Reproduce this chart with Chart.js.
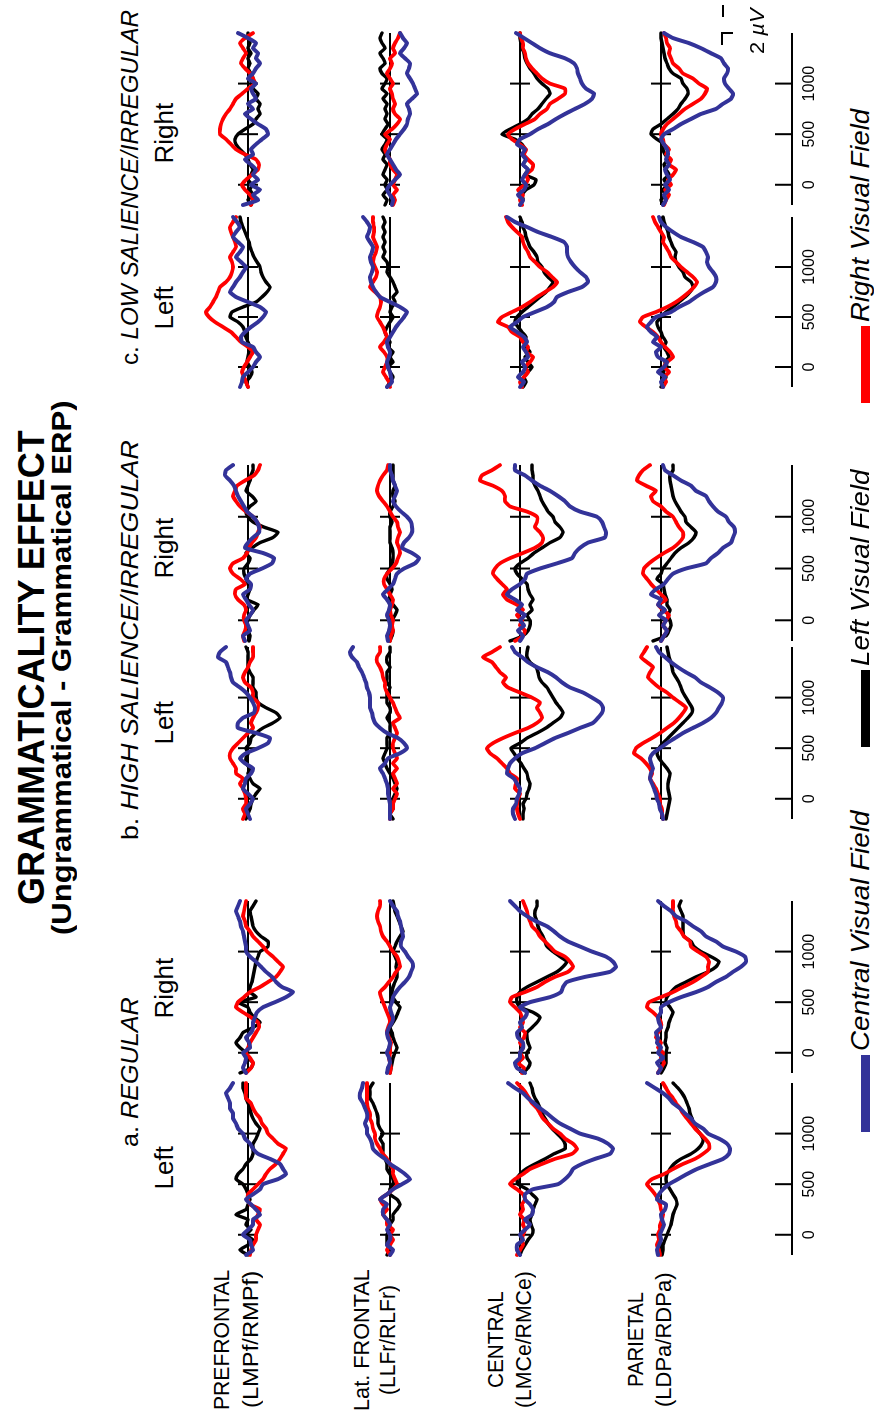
<!DOCTYPE html>
<html><head><meta charset="utf-8">
<script src="https://cdn.jsdelivr.net/npm/chart.js@4.4.1/dist/chart.umd.min.js"></script>
<style>
html,body{margin:0;padding:0;background:#fff;overflow:hidden;width:876px;height:1420px;}
#fig{position:absolute;left:0;top:0;width:1420px;height:876px;transform-origin:0 0;transform:translate(0px,1420px) rotate(-90deg);font-family:"Liberation Sans",Arial,Helvetica,sans-serif;color:#000;background:#fff;}
#fig canvas{position:absolute;}
.lbl{position:absolute;white-space:nowrap;line-height:1;transform-origin:0 0;}
.bar{position:absolute;}
</style></head><body><div id="fig"></div>
<script>
// ---------------- DATA (µV, difference waves) ----------------
const times = [-200,-150,-100,-50,0,50,100,150,200,250,300,350,400,450,500,550,600,650,700,750,800,850,900,950,1000,1050,1100,1150,1200,1250,1300,1350,1400,1450,1500];
const timeTicks = [0, 500, 1000];

// a. REGULAR - Left
const reg_L_pf_cvf = [-0.2,0.5,0.3,0.2,-0.5,0,0.5,0.5,1.2,0.8,0.3,-0.2,0.5,1.2,1.5,3.0,3.8,3.5,3.2,2.2,1.0,0.5,0.2,-0.3,-0.5,-1.0,-1.2,-1.5,-1.5,-1.8,-1.8,-2.0,-2.2,-1.8,-1.5];
const reg_L_pf_lvf = [0,-0.8,0,0.5,-0.2,0.3,-0.2,0,-1.2,-0.2,0,0.2,0,-0.2,-0.5,-1.2,-1.0,-0.5,-0.2,0.3,0.5,0.5,0.5,0.8,1.0,1.2,0.8,0.5,0.3,0.2,0,-0.2,-0.3,-0.5,-0.5];
const reg_L_pf_rvf = [0.2,0.3,0.5,0.8,0.8,1.0,1.2,0.8,1.0,1.2,0.2,0,0,0.5,1.0,1.5,1.8,2.2,2.8,3.2,3.5,3.8,3.0,2.5,2.0,1.8,1.4,1.2,0.8,0.5,0.3,-0.2,-0.2,-0.2,-0.2];
const reg_L_lf_cvf = [0,0.3,-0.3,0,0,-0.3,0,-0.3,-0.7,-0.7,-0.3,-1.0,-0.3,0.3,1.2,2.0,1.5,0.8,0,-0.5,-1.2,-1.7,-1.8,-2.0,-2.3,-2.3,-2.5,-2.3,-2.3,-2.5,-2.7,-3.0,-3.0,-2.8,-2.7];
const reg_L_lf_lvf = [-0.3,0,-0.3,-0.3,-0.3,0,0,0.3,0.3,0.7,1.0,0.7,0,0,0.3,0.3,0,-0.3,-0.3,-0.5,-0.7,-0.7,-0.7,-1.0,-0.7,-1.0,-1.2,-1.2,-1.3,-1.5,-1.7,-2.0,-2.0,-2.0,-1.7];
const reg_L_lf_rvf = [0,-0.3,0,0.3,0,0.3,-0.3,-0.3,-0.7,-0.3,-0.7,-1.0,-0.3,0.3,0.7,0.5,0.3,0.3,0,-0.3,-0.7,-1.0,-1.3,-1.5,-1.5,-1.7,-1.8,-2.0,-2.0,-2.2,-2.3,-2.3,-2.3,-2.3,-2.3];
const reg_L_ce_cvf = [0,-0.3,-0.3,0.3,0,0.5,1.0,0.5,1.2,1.3,1.0,0.5,0.5,1.3,3.8,4.5,5.0,5.3,6.2,7.5,9.0,9.3,8.8,7.8,6.0,5.0,4.0,3.3,2.7,2.0,1.4,0.8,0.3,-0.5,-1.2];
const reg_L_ce_lvf = [0,0.2,0.5,0.8,1.2,1.3,1.1,1.0,1.2,1.3,1.5,1.7,1.2,0.7,-0.2,-0.3,0,0.6,1.5,2.5,3.4,4.5,4.5,4.2,3.7,3.2,2.8,2.5,2.2,2.0,1.8,1.5,1.3,1.2,1.0];
const reg_L_ce_rvf = [-0.3,0,0.3,0.2,0.3,0.5,0.3,0.4,0,0.3,0.2,0.5,0.3,-0.3,-1.0,-0.5,0.3,1.0,2.2,3.5,5.2,5.7,5.3,4.5,4.0,3.3,2.8,2.3,2.0,1.7,1.2,0.9,0.6,0.2,-0.3];
const reg_L_pa_cvf = [-0.3,-0.4,-0.2,0,-0.1,0.1,0.3,0.1,0,0.4,0.5,-0.4,-0.2,0.2,0.8,1.7,2.6,3.6,4.9,6.2,6.8,6.9,6.6,5.8,4.7,4.2,3.4,3.0,2.4,1.9,1.2,0.8,0.2,-0.6,-1.4];
const reg_L_pa_lvf = [0.1,0.2,0.2,0.4,0.6,0.8,1.0,1.1,1.2,1.4,1.6,1.5,1.2,0.9,0.6,0.5,0.6,0.9,1.3,2.0,3.0,3.7,4.1,4.2,3.9,3.5,3.2,3.1,2.9,2.8,2.6,2.4,2.1,1.7,1.2];
const reg_L_pa_rvf = [-0.1,-0.2,-0.4,-0.2,-0.3,-0.1,-0.1,0.1,0.2,0,-0.1,-0.3,-0.6,-1.0,-1.4,-0.9,0.3,1.2,2.2,3.4,4.2,4.8,4.8,4.4,3.9,3.4,3.0,2.6,2.2,1.9,1.5,1.2,0.8,0.5,0.2];

// a. REGULAR - Right
const reg_R_pf_cvf = [-0.2,-0.5,-0.3,-0.2,-0.5,0.2,0.1,-0.2,0.3,0.5,0.5,0.7,0.9,1.5,2.7,3.8,4.5,3.4,2.8,2.4,1.8,1.3,0.8,0.2,-0.2,-0.2,-0.3,-0.4,-0.5,-0.7,-0.8,-1.0,-1.2,-1.0,-0.8];
const reg_R_pf_lvf = [-0.8,0.3,0.5,0,-0.2,-0.8,-1.2,-0.8,-0.5,0.5,1.2,0.6,0.2,0,-1.0,0.8,0.2,0.2,0.4,0.5,0.6,0.7,0.8,1.0,1.2,2.0,2.0,1.3,0.8,0.5,0.4,0.3,0.2,0.5,0.8];
const reg_R_pf_rvf = [-0.2,0.3,0.5,0.2,-0.2,0,0.2,0.5,0.8,1.1,1.0,0.3,-0.5,-1.2,-1.0,-0.4,0.2,1.2,2.0,2.8,3.2,3.5,3.0,2.5,1.9,1.5,1.0,0.5,0.2,-0.2,-0.3,-0.5,-0.4,-0.3,-0.2];
const reg_R_lf_cvf = [-0.3,-0.2,0,-0.1,-0.3,-0.1,0,-0.2,-0.3,-0.1,0.2,0.3,0.1,0,0.2,0.3,0.6,1.0,1.5,1.9,2.1,2.3,2.2,1.8,1.5,1.1,1.1,1.3,1.2,1.1,1.0,0.8,0.7,0.3,0];
const reg_R_lf_lvf = [0,0.1,0.2,0.3,0.5,0.7,0.5,0.3,0.2,0,0.3,0.6,0.8,1.0,0.6,0.3,0.2,0.3,0.5,0.7,0.7,0.6,0.7,0.5,0.3,0.5,0.7,1.0,1.3,1.1,0.9,0.7,0.5,0.4,0.3];
const reg_R_lf_rvf = [0,0.1,0,-0.1,0,0,0.1,-0.1,-0.3,-0.2,0,-0.1,-0.3,-0.5,-0.7,-0.9,-1.0,-0.5,-0.1,0.3,0.6,1.0,0.9,0.7,0.3,0,-0.3,-0.7,-0.9,-1.0,-1.2,-1.3,-1.2,-1.0,-1.0];
const reg_R_ce_cvf = [0.5,-0.3,-0.5,0,0,0.3,0.3,-0.2,-0.3,0.2,0,0.5,0.7,0,1.0,3.0,4.1,4.3,4.7,6.5,9.0,9.6,9.3,8.6,7.2,6.0,4.8,4.0,3.4,2.7,1.6,0.7,0,-0.5,-1.0];
const reg_R_ce_lvf = [0.3,0.8,1.0,0.7,0.7,1.0,0.8,0.7,0.7,1.2,1.7,2.0,1.3,0,-0.3,-0.3,0,0.7,1.7,2.7,3.7,4.3,4.7,4.0,3.3,2.7,2.5,2.3,2.0,1.8,1.7,1.5,1.5,1.7,1.7];
const reg_R_ce_rvf = [0.2,0.4,-0.2,0.3,0,0.3,0,0.4,0.5,0,0.3,0.2,0,-0.5,-1.0,-0.8,0.5,1.7,2.5,3.5,4.8,5.3,5.0,4.5,3.5,3.0,2.5,2.0,1.7,1.2,1.0,0.8,0.7,0.5,0.3];
const reg_R_pa_cvf = [-0.3,0,-0.4,0.2,-0.3,0,-0.4,-0.3,-0.5,0,-0.2,-0.3,0,0,0.8,2.0,3.5,4.7,5.5,6.5,7.2,8.0,8.5,8.4,7.5,6.2,5.5,4.5,4.0,3.2,2.5,1.5,1.0,0.3,-0.3];
const reg_R_pa_lvf = [0,0.3,0.5,0.5,0.5,0.6,0.4,0.5,0.5,0.7,0.8,1.0,1.2,0.9,0.5,0.6,1.0,1.5,2.5,3.5,4.7,5.5,5.8,5.0,4.0,3.3,3.0,2.3,2.2,2.2,2.2,2.2,2.0,1.8,2.0];
const reg_R_pa_rvf = [-0.3,0,0.3,0,0.2,-0.3,0,-0.5,-0.3,0,0,-0.3,-0.8,-1.4,-1.2,0,1.2,2.2,3.2,4.0,4.7,4.7,4.8,4.5,3.7,3.0,2.9,2.3,2.0,1.6,1.5,1.3,1.2,1.2,1.2];

// b. HIGH SALIENCE/IRREGULAR - Left
const hi_L_pf_cvf = [0.2,0,-0.2,0.2,0.5,0,-0.5,-0.3,-0.2,0.3,0.5,-0.3,-0.8,-0.2,1.0,2.0,2.2,0.8,-1.0,-1.0,-0.5,0.6,0.7,0.5,0.2,-0.2,-0.8,-1.5,-1.7,-1.8,-2.0,-2.2,-3.0,-2.8,-2.2];
const hi_L_pf_lvf = [-0.2,0,0.2,0.3,0.5,0.8,1.2,0.5,0.2,0,0.2,-0.2,-0.2,0,-0.2,0.2,0.3,0.8,1.5,2.5,3.2,2.8,1.8,1.0,0.8,0.8,0.5,0.5,0.5,0.2,0,0,0,0,-0.2];
const hi_L_pf_rvf = [-0.5,-0.3,-0.5,-0.2,-0.2,-0.3,-0.5,-0.8,-0.5,-1.2,-1.2,-1.5,-1.8,-1.8,-1.5,-1.0,-0.5,0,0.5,0.3,0.5,0.8,1.0,1.0,0.5,0.5,0.3,-0.3,-0.5,-0.3,0,0.2,0.5,0.5,0.5];
const hi_L_lf_cvf = [0,0,0,0,-0.1,-0.2,-0.2,-0.3,-0.5,-0.7,-1.0,-0.5,-0.2,1.0,1.7,1.4,0.8,-0.3,-1.0,-1.5,-1.7,-1.8,-2.0,-2.0,-2.0,-2.1,-2.3,-2.4,-2.6,-2.8,-3.1,-3.3,-3.8,-4.0,-3.7];
const hi_L_lf_lvf = [0.3,0,0.3,0.3,0.3,0.5,0.7,0.5,0.3,0,-0.3,-0.5,-0.7,-0.5,-0.3,-0.3,-0.3,0,0,0,-0.3,0,0,-0.3,-0.3,-0.3,0,-0.3,-0.3,-0.3,0,-0.3,-0.3,0,0];
const hi_L_lf_rvf = [0,0,0.3,0.3,0.5,0.7,0.3,0.7,0.5,0.3,0.7,0.3,0.7,0.5,0.3,0.3,0.5,0.7,0.5,0.3,1.0,0.7,0.5,0.3,0,-0.3,-0.5,-0.5,-0.7,-0.8,-1.0,-1.3,-1.3,-1.0,-1.0];
const hi_L_ce_cvf = [-0.5,-0.7,-0.7,-0.4,-0.3,-0.1,0,-0.3,-0.6,-1.3,-1.2,-1.0,-0.5,0.2,1.5,2.5,3.5,4.8,6.0,7.3,7.8,8.2,8.3,8.0,7.2,6.3,5.0,4.2,3.6,2.8,1.7,0.8,0.2,-0.5,-0.8];
const hi_L_ce_lvf = [0.3,0.3,0.4,0.3,0.6,0.7,0.9,1.0,0.8,0.7,0.4,0.1,-0.3,-0.6,-0.9,0,0.7,1.7,2.6,3.3,4.0,4.3,4.0,3.6,3.3,3.0,2.7,2.2,1.9,1.8,1.6,1.0,0.7,0.7,0.8];
const hi_L_ce_rvf = [0,-0.2,-0.3,-0.3,-0.2,0,-0.5,-0.4,-0.3,-1.0,-1.3,-1.8,-2.3,-3.0,-3.3,-2.7,-1.7,-0.5,0.8,1.7,2.2,2.0,1.7,2.0,1.2,0,-1.2,-1.7,-1.4,-2.0,-2.4,-2.8,-3.7,-2.8,-2.0];
const hi_L_pa_cvf = [0.2,0.1,-0.1,-0.2,-0.4,-0.5,-0.7,-0.9,-1.1,-1.0,-0.8,-1.0,-1.1,-0.8,-0.1,0.6,1.4,2.2,3.2,4.2,5.0,5.5,5.8,6.1,6.2,5.7,4.9,4.0,3.4,2.5,1.7,1.0,0.4,-0.2,-0.5];
const hi_L_pa_lvf = [0.5,0.6,0.7,0.8,0.9,0.8,0.7,0.7,0.8,0.9,0.6,0.2,-0.2,-0.4,-0.2,0.2,0.7,1.2,1.7,2.2,2.7,3.1,3.1,2.8,2.5,2.2,2.0,1.8,1.5,1.2,1.1,1.0,0.8,0.7,0.6];
const hi_L_pa_rvf = [0.2,0.1,0.1,-0.1,-0.1,-0.3,-0.5,-0.8,-1.1,-0.9,-1.1,-1.5,-2.0,-2.7,-2.5,-1.8,-0.9,-0.1,0.6,1.3,1.8,2.2,2.5,1.9,1.2,0.6,-0.2,-0.8,-1.3,-1.1,-0.8,-1.4,-2.0,-1.7,-1.4];

// b. HIGH SALIENCE/IRREGULAR - Right
const hi_R_pf_cvf = [-0.3,-0.5,0.2,0,-0.2,0.2,0.5,0.1,-0.2,-0.5,0.2,0.3,-0.2,0.2,1.4,2.4,2.6,1.5,-0.3,0,0.5,1.1,1.1,0.9,0.5,-0.1,-0.4,-0.7,-1.0,-1.2,-1.4,-1.8,-2.3,-2.2,-1.5];
const hi_R_pf_lvf = [0.1,0.2,0,-0.2,0,0.2,0.6,1.0,-0.1,0,0.2,0,-0.2,-0.4,-0.4,0,0.2,-0.2,0.4,1.2,2.5,3.0,1.6,0.5,0,-0.2,0.2,0.8,0.4,-0.2,0,0.2,0.3,0.5,0.5];
const hi_R_pf_rvf = [-0.4,-0.5,-0.3,-0.2,-0.4,-0.4,-0.2,-0.4,-1.0,-1.3,-1.2,-0.3,-0.8,-1.5,-1.8,-1.5,-0.5,-0.1,0.1,0.4,0.8,1.0,1.2,0.9,0.5,-0.2,-0.8,-1.2,-1.5,-1.3,-1.1,-0.3,0.6,1.0,1.2];
const hi_R_lf_cvf = [-0.2,-0.3,-0.1,0,-0.1,-0.3,-0.1,0,-0.3,-0.7,-0.2,0.3,0.5,0.7,1.4,2.5,2.9,2.2,1.2,1.4,1.9,2.2,2.2,2.1,1.7,1.1,0.6,0.3,0.5,0.7,0.5,0.3,0.2,0,0];
const hi_R_lf_lvf = [0,0.2,0.3,0,0.2,0.5,0.7,0.3,0,0,0.2,0,-0.3,-0.3,0,0.2,0.3,0.3,0.2,0,0,0,0,0.2,0,0,0.3,0.5,0.3,0.3,0.5,0.3,0.3,0.3,0.3];
const hi_R_lf_rvf = [0,0.1,0.3,0.2,0.3,0.1,0,0.2,0.3,0,-0.3,-0.6,-0.6,-0.3,0.2,0.6,0.8,1.0,0.9,0.7,0.8,1.0,0.8,0.7,0.3,0,-0.3,-0.7,-1.1,-1.3,-1.2,-1.0,-0.7,-0.3,-0.2];
const hi_R_ce_cvf = [0,0.3,-0.2,0.4,0,0.5,-0.3,0.2,-0.5,-1.3,-0.8,0,0.5,0.7,2.0,3.7,5.2,5.5,6.0,6.8,8.5,8.6,8.4,8.2,7.7,6.0,5.0,4.5,3.8,3.0,2.0,1.2,0.5,-0.5,-0.5];
const hi_R_ce_lvf = [-1.0,0.3,0.8,1.0,1.0,0.7,1.2,1.0,1.3,1.0,0.8,0.7,0.2,-0.3,-0.5,0,0.8,1.4,2.2,3.0,4.0,4.3,4.0,3.5,3.3,2.8,2.5,2.2,2.0,1.8,1.5,1.3,1.3,1.2,1.2];
const hi_R_ce_rvf = [-0.5,0.3,0.5,0,0.2,-0.3,0.3,-0.3,-1.3,-1.7,-1.3,-1.8,-2.3,-2.7,-2.5,-2.0,-1.0,0.3,1.5,2.2,2.3,2.0,1.5,1.7,1.7,0.7,-1.0,-1.5,-1.5,-1.8,-2.7,-4.0,-3.8,-2.8,-2.0];
const hi_R_pa_cvf = [0,0.3,0.6,0.2,0.5,-0.2,0.4,-0.3,0,-1.0,-0.5,0.3,0.7,1.2,2.5,4.5,5.0,5.7,6.2,7.0,7.2,7.4,7.3,6.8,6.5,5.7,5.2,4.8,4.5,3.5,3.0,2.0,1.2,0.4,0.2];
const hi_R_pa_lvf = [-0.8,0.5,0.8,1.0,0.9,0.7,0.9,0.6,0.6,0.4,0.3,0.2,-0.4,0,0.2,0.6,1.0,1.4,2.0,2.8,3.3,3.5,3.0,2.5,2.4,2.0,1.7,1.4,1.2,1.1,1.0,0.9,0.9,1.2,1.2];
const hi_R_pa_rvf = [0,0.3,0.6,0.2,0.5,0.8,0.2,-0.3,0.5,0,-0.5,-1.0,-1.4,-1.8,-1.7,-1.2,-0.5,0.3,1.2,1.8,2.2,2.2,1.8,1.5,1.2,0.5,0,-0.8,-1.0,-0.5,-1.5,-2.4,-2.2,-1.8,-1.1];

// c. LOW SALIENCE/IRREGULAR - Left
const lo_L_pf_cvf = [-0.8,-0.6,-0.5,0,0.5,0.8,1.2,0.8,0.5,-0.6,-0.7,-0.3,0.3,1.0,1.5,1.8,1.2,0,-1.2,-1.8,-1.5,-1.2,-0.8,-0.5,-0.2,-0.7,-1.2,-0.8,-0.5,-1.0,-1.5,-1.2,-0.8,-1.1,-1.5];
const lo_L_pf_lvf = [0,-0.2,0.2,0.4,0.2,-0.1,0,0.1,0.2,0,-0.2,-0.3,-0.5,-1.0,-1.8,-1.6,-0.5,0.8,1.4,1.9,2.2,1.8,1.5,1.3,1.2,0.9,0.6,0.4,0.2,0.1,-0.1,-0.3,-0.5,-0.7,-0.8];
const lo_L_pf_rvf = [0,-0.2,-0.4,-0.6,-0.4,-0.1,0.2,0.5,0,-0.7,-1.2,-1.7,-2.5,-3.3,-3.9,-4.2,-3.8,-3.5,-3.2,-3.0,-2.8,-2.2,-1.8,-1.6,-1.5,-1.6,-1.8,-1.5,-1.2,-1.3,-1.5,-1.7,-1.8,-1.5,-1.2];
const lo_L_lf_cvf = [-0.3,0.2,0.1,0,-0.2,-0.3,-0.1,0,-0.2,-0.3,0,0.3,0.6,1.0,1.4,1.7,1.0,0,-1.0,-1.4,-1.7,-1.9,-2.0,-1.8,-1.7,-1.9,-2.0,-1.8,-1.7,-2.0,-2.3,-2.1,-2.0,-2.3,-2.7];
const lo_L_lf_lvf = [-0.3,0,0.3,0,-0.2,0.3,0,0.3,-0.2,0,-0.3,-0.5,-0.3,0,0.3,0,0.2,0.5,0.3,0.7,0.5,0.3,0,-0.3,-0.2,-0.3,-0.7,-0.5,-0.7,-0.5,-0.7,-0.5,-0.7,-0.5,-0.7];
const lo_L_lf_rvf = [0,-0.1,-0.4,-0.7,-0.5,-0.3,-0.3,-0.6,-1.0,-0.6,-0.3,-0.5,-0.7,-1.0,-1.3,-1.2,-1.0,-0.9,-1.0,-1.5,-2.0,-1.7,-1.4,-1.3,-1.5,-1.7,-1.6,-1.4,-1.3,-1.5,-1.7,-1.6,-1.6,-1.7,-1.7];
const lo_L_ce_cvf = [0,0.4,-0.2,0.3,0.5,0.2,0.8,0.6,0.3,0.7,0.4,-0.3,-1.0,-0.3,0.3,1.5,2.7,3.4,3.7,4.8,6.2,6.8,6.6,6.0,5.5,5.1,4.8,4.7,4.7,4.4,3.2,1.8,0.7,-0.5,-1.3];
const lo_L_ce_lvf = [0.3,0.6,0.4,0.8,1.2,0.8,0.5,1.0,0.6,0.4,0.6,0.2,-0.2,-0.5,-0.3,0.2,0.8,1.4,2.0,2.6,3.0,3.3,2.8,2.4,2.2,1.8,1.7,1.4,1.0,0.8,0.6,0.5,0.3,0.2,0];
const lo_L_ce_rvf = [0.2,0,0.4,0.8,0.5,1.0,1.3,0.6,0.8,0.3,0,-0.8,-1.2,-2.2,-1.8,-0.8,0.2,1.0,1.7,2.5,3.3,3.7,3.2,2.7,2.0,1.5,1.0,0.8,0.5,0.3,0.2,-0.3,-0.8,-1.2,-1.4];
const lo_L_pa_cvf = [0.2,0,0.4,-0.3,0.3,0.6,-0.3,-0.5,0,-0.8,-0.4,-1.0,-1.4,-1.0,-0.5,1.0,1.8,2.8,3.5,4.3,5.2,5.5,5.5,5.2,4.8,4.6,4.7,4.5,4.2,3.2,2.0,1.2,0.5,0,-0.2];
const lo_L_pa_lvf = [0,0.3,0.5,0.2,0.6,0.4,0.8,0.6,0.3,0.5,0.2,0,-0.3,-0.4,0,0.5,1.2,1.8,2.4,2.9,3.2,3.0,2.4,2.2,1.8,1.5,1.4,1.5,1.2,1.0,0.8,0.7,0.5,0.3,0.2];
const lo_L_pa_rvf = [0.2,0.5,0.3,0.8,0.3,0.6,1.2,0.9,0.4,0,-0.3,-0.8,-1.5,-2.1,-1.8,-0.5,0.6,1.5,2.2,2.8,3.3,3.6,3.2,2.6,2.0,1.5,1.0,0.8,0.5,0.2,0.3,0,-0.3,-0.6,-0.8];

// c. LOW SALIENCE/IRREGULAR - Right
const lo_R_pf_cvf = [-0.5,1.0,0.5,1.2,0.3,1.0,0.5,0.8,0.3,-0.3,0.5,0.3,0.8,1.4,2.0,1.8,1.0,0.3,-0.3,0.5,0,0.8,0.5,0.3,0.8,0,0.5,0.8,1.2,0.8,1.0,0.5,0.8,0,-1.0];
const lo_R_pf_lvf = [0.3,0,0.5,0.2,0.4,0,0.3,0.5,0.2,0,-0.3,-0.8,-1.2,-1.3,-1.0,-0.3,0.5,0.8,1.2,1.0,1.2,0.8,1.0,0.5,0.3,0.5,0.3,0,0.2,0,0.3,0,0.2,0,0];
const lo_R_pf_rvf = [0.3,0.5,0.2,-0.3,-0.6,-0.2,0.4,1.0,1.1,0.8,-0.3,-1.2,-1.7,-2.2,-2.8,-2.8,-2.7,-2.5,-2.2,-1.8,-1.5,-1.2,-0.6,0,0.7,0.5,0.2,-0.3,-0.7,-0.5,-0.2,-0.5,-0.8,-0.3,0.5];
const lo_R_lf_cvf = [0.2,0.3,0,-0.3,0,0.5,1.0,0.6,0.3,0,-0.3,0,0.3,0.6,1.0,1.4,1.7,1.8,2.0,1.9,1.7,2.2,2.7,2.5,2.3,2.0,1.7,1.9,2.0,1.5,1.0,1.4,1.7,1.3,1.0];
const lo_R_lf_lvf = [-0.5,-0.3,-0.7,-0.3,-0.5,-0.3,-0.7,-0.5,-0.3,-0.7,-0.5,-0.8,-0.5,-0.3,-0.8,-0.5,-0.2,-0.5,-0.3,-0.5,-0.3,-0.7,-0.3,-0.8,-0.5,-0.3,-0.8,-1.0,-0.5,-0.7,-1.0,-0.5,-0.8,-1.0,-0.8];
const lo_R_lf_rvf = [0.3,0.5,0.3,0.7,0.3,0.5,0.7,0.3,0,0,-0.3,-0.5,-0.3,0,-0.5,0.2,0.7,1.0,0.5,0.3,0.5,0.3,0.2,0,0.3,0,-0.3,0,0.2,0,0.5,0.3,0.5,0.8,1.0];
const lo_R_ce_cvf = [0,0.3,-0.2,0.4,0.6,0.2,0.5,0.8,0.3,0.6,0.2,0.5,-0.3,0,1.0,1.8,2.8,3.6,4.5,5.5,6.5,7.2,7.4,6.6,6.2,6.0,5.8,5.7,5.4,4.5,3.0,2.0,1.2,0.4,-0.4];
const lo_R_ce_lvf = [0,0.3,0.2,0.6,1.4,1.6,0.5,0.8,0.3,0.6,0.3,0.5,0.2,-0.5,-1.8,-1.0,0,0.8,1.2,1.8,2.2,2.6,3.0,2.8,2.2,1.7,1.4,1.0,0.7,0.5,0.4,0.2,0.1,0,0];
const lo_R_ce_rvf = [0.2,0,0.3,-0.2,0.5,0.8,0.6,1.2,1.3,0.8,0.4,0.6,0,-0.8,-1.2,-0.5,0.5,1.5,2.0,2.7,3.0,3.8,4.5,4.5,3.0,2.2,1.7,1.2,0.8,0.6,0.5,0.3,0.3,0.1,0];
const lo_R_pa_cvf = [0.2,0.5,0.3,0.8,0.4,0.9,0.6,0.4,0.8,0.5,0.7,0.6,0.3,0,0.3,1.2,2.0,3.0,4.0,5.5,6.2,7.0,7.2,6.8,6.4,6.3,6.6,6.7,6.3,6.0,5.0,4.0,2.8,1.2,0.3];
const lo_R_pa_lvf = [0.2,0,0.4,0.2,0.6,0.3,0.8,0.5,0.3,0.7,0.4,0.2,0.3,-0.4,-1.0,-0.8,0,0.6,1.2,1.7,2.0,2.4,2.7,2.6,2.2,2.0,1.2,0.8,0.6,0.4,0.3,0.2,0.1,0,0];
const lo_R_pa_rvf = [0.3,0.5,0.8,0.4,1.0,0.7,1.2,1.5,0.8,1.0,0.5,0.8,0.3,0.2,0,0.2,0.6,1.2,1.8,2.4,3.2,4.0,4.4,4.6,3.8,3.2,2.2,1.8,1.2,1.0,0.8,0.9,0.6,0.5,0.3];

// ---------------- TABLES built from the arrays ----------------
const SERIES = {
  regL:{pf:[reg_L_pf_cvf,reg_L_pf_rvf,reg_L_pf_lvf],lf:[reg_L_lf_cvf,reg_L_lf_rvf,reg_L_lf_lvf],ce:[reg_L_ce_cvf,reg_L_ce_rvf,reg_L_ce_lvf],pa:[reg_L_pa_cvf,reg_L_pa_rvf,reg_L_pa_lvf]},
  regR:{pf:[reg_R_pf_cvf,reg_R_pf_rvf,reg_R_pf_lvf],lf:[reg_R_lf_cvf,reg_R_lf_rvf,reg_R_lf_lvf],ce:[reg_R_ce_cvf,reg_R_ce_rvf,reg_R_ce_lvf],pa:[reg_R_pa_cvf,reg_R_pa_rvf,reg_R_pa_lvf]},
  hiL:{pf:[hi_L_pf_cvf,hi_L_pf_rvf,hi_L_pf_lvf],lf:[hi_L_lf_cvf,hi_L_lf_rvf,hi_L_lf_lvf],ce:[hi_L_ce_cvf,hi_L_ce_rvf,hi_L_ce_lvf],pa:[hi_L_pa_cvf,hi_L_pa_rvf,hi_L_pa_lvf]},
  hiR:{pf:[hi_R_pf_cvf,hi_R_pf_rvf,hi_R_pf_lvf],lf:[hi_R_lf_cvf,hi_R_lf_rvf,hi_R_lf_lvf],ce:[hi_R_ce_cvf,hi_R_ce_rvf,hi_R_ce_lvf],pa:[hi_R_pa_cvf,hi_R_pa_rvf,hi_R_pa_lvf]},
  loL:{pf:[lo_L_pf_cvf,lo_L_pf_rvf,lo_L_pf_lvf],lf:[lo_L_lf_cvf,lo_L_lf_rvf,lo_L_lf_lvf],ce:[lo_L_ce_cvf,lo_L_ce_rvf,lo_L_ce_lvf],pa:[lo_L_pa_cvf,lo_L_pa_rvf,lo_L_pa_lvf]},
  loR:{pf:[lo_R_pf_cvf,lo_R_pf_rvf,lo_R_pf_lvf],lf:[lo_R_lf_cvf,lo_R_lf_rvf,lo_R_lf_lvf],ce:[lo_R_ce_cvf,lo_R_ce_rvf,lo_R_ce_lvf],pa:[lo_R_pa_cvf,lo_R_pa_rvf,lo_R_pa_lvf]}
};

// ---------------- LAYOUT (unrotated figure coordinates, 1420 x 876) ----------------
const COLS = {regL:[165,337], regR:[347,519], hiL:[601,773], hiR:[779,955], loL:[1033,1203], loR:[1215,1387]};
const ROWS = {pf:248, lf:390, ce:520, pa:661};
const AXIS_Y = 792;
const PX_PER_UV = 10;
const TOP_MARGIN = 62;
const SIDE_PAD = 10;
const STYLES = [
  {color:'#333399', width:4.0},   // Central Visual Field
  {color:'#ff0000', width:3.8},   // Right Visual Field
  {color:'#000000', width:3.4}    // Left Visual Field
];

const fig = document.getElementById('fig');

const erpFrame = {
  id:'erpFrame',
  beforeDatasetsDraw(chart, args, opts){
    const ctx = chart.ctx, x = chart.scales.x, y = chart.scales.y;
    const y0 = y.getPixelForValue(0);
    const xa = x.getPixelForValue(times[0]), xb = x.getPixelForValue(times[times.length-1]);
    ctx.save();
    ctx.strokeStyle = '#000'; ctx.lineWidth = 2; ctx.lineCap = 'butt';
    ctx.beginPath();
    ctx.moveTo(xa, y0); ctx.lineTo(xb, y0);
    for (const t of timeTicks){ const px = x.getPixelForValue(t); ctx.moveTo(px, y0-10); ctx.lineTo(px, y0+10); }
    ctx.stroke();
    if (opts && opts.axisY != null){
      const ay = opts.axisY;
      ctx.beginPath();
      ctx.moveTo(xa, ay); ctx.lineTo(xb, ay);
      for (const t of timeTicks){ const px = x.getPixelForValue(t); ctx.moveTo(px, ay); ctx.lineTo(px, ay-17); }
      ctx.stroke();
      ctx.fillStyle = '#000';
      ctx.font = '16px "Liberation Sans", Arial, sans-serif';
      ctx.textAlign = 'center'; ctx.textBaseline = 'alphabetic';
      for (const t of timeTicks){ ctx.fillText(String(t), x.getPixelForValue(t), ay + 22); }
    }
    ctx.restore();
  }
};

function makePlot(colKey, rowKey){
  const [x0, x1] = COLS[colKey];
  const base = ROWS[rowKey];
  const top = base - TOP_MARGIN;
  const bottom = rowKey === 'pa' ? AXIS_Y + 30 : base + 118;
  const h = bottom - top;
  const cv = document.createElement('canvas');
  cv.width = (x1 - x0) + 2*SIDE_PAD; cv.height = h;
  cv.style.left = (x0 - SIDE_PAD) + 'px'; cv.style.top = top + 'px';
  cv.style.width = cv.width + 'px'; cv.style.height = h + 'px';
  fig.appendChild(cv);
  const sets = SERIES[colKey][rowKey].map((arr, i) => ({
    data: times.map((t, k) => ({x: t, y: arr[k]})),
    borderColor: STYLES[i].color, borderWidth: STYLES[i].width,
    pointRadius: 0, fill: false, tension: 0.18, clip: false,
    borderJoinStyle: 'round', borderCapStyle: 'round'
  }));
  new Chart(cv, {
    type: 'line',
    data: {datasets: sets},
    options: {
      responsive: false, animation: false, events: [], devicePixelRatio: 1,
      layout: {padding: {left: SIDE_PAD, right: SIDE_PAD, top: 0, bottom: 0}},
      plugins: {legend: {display: false}, tooltip: {enabled: false},
        erpFrame: rowKey === 'pa' ? {axisY: AXIS_Y - top} : {}},
      scales: {
        x: {type: 'linear', min: times[0], max: times[times.length-1], display: false},
        y: {type: 'linear', min: -TOP_MARGIN/PX_PER_UV, max: (h - TOP_MARGIN)/PX_PER_UV, reverse: true, display: false}
      }
    },
    plugins: [erpFrame]
  });
}

for (const c of Object.keys(COLS)) for (const r of Object.keys(ROWS)) makePlot(c, r);

// ---------------- TEXT ----------------
function addLabel(html, o){
  const el = document.createElement('div');
  el.className = 'lbl'; el.innerHTML = html;
  el.style.fontSize = o.size + 'px';
  el.style.fontWeight = o.weight || 'normal';
  el.style.fontStyle = o.style || 'normal';
  el.style.top = (o.base - 0.8465*o.size) + 'px';
  fig.appendChild(el);
  const nat = el.offsetWidth;
  const w = o.width || nat;
  const left = (o.left != null) ? o.left : (o.cx - w/2);
  el.style.left = left + 'px';
  if (o.width) el.style.transform = 'scaleX(' + (o.width/nat).toFixed(4) + ')';
}
function addBar(l, t, w, h, color){
  const d = document.createElement('div'); d.className = 'bar';
  d.style.left = l+'px'; d.style.top = t+'px'; d.style.width = w+'px'; d.style.height = h+'px'; d.style.background = color;
  fig.appendChild(d);
}

addLabel('GRAMMATICALITY EFFECT', {left:515, width:475, base:44, size:37, weight:'bold'});
addLabel('(Ungrammatical - Grammatical ERP)', {left:485, width:535, base:72, size:27, weight:'bold'});

addLabel('a. <i>REGULAR</i>', {left:273, width:150, base:138, size:24});
addLabel('b. <i>HIGH SALIENCE/IRREGULAR</i>', {left:580, width:400, base:138, size:24});
addLabel('c. <i>LOW SALIENCE/IRREGULAR</i>', {left:1055, width:355, base:138, size:24});

const sideLabels = [['Left',252],['Right',432],['Left',697],['Right',872],['Left',1112],['Right',1287]];
for (const [t, cx] of sideLabels) addLabel(t, {cx, base:173, size:26});

const rowLabels = [
  ['PREFRONTAL',230,140],['(LMPf/RMPf)',259,137],
  ['Lat. FRONTAL',370,142],['(LLFr/RLFr)',396,110],
  ['CENTRAL',504,97],['(LMCe/RMCe)',532,137],
  ['PARIETAL',644,95],['(LDPa/RDPa)',672,134]
];
for (const [t, base, w] of rowLabels) addLabel(t, {cx:80, width:w, base, size:22});

// legend
addBar(288, 861, 77, 9, '#333399');
addLabel('Central Visual Field', {left:369, width:240, base:869, size:25, style:'italic'});
addBar(673, 861, 77, 9, '#000000');
addLabel('Left Visual Field', {left:754, width:196, base:869, size:25, style:'italic'});
addBar(1017, 861, 77, 9, '#ff0000');
addLabel('Right Visual Field', {left:1098, width:213, base:869, size:25, style:'italic'});

// voltage scale bar
addBar(1375, 721, 12, 2, '#000');
addBar(1386, 721, 2, 12, '#000');
addBar(1403, 722, 12, 2, '#000');
addLabel('2 <i>µV</i>', {left:1366, width:46, base:764, size:20});
</script>
</body></html>
